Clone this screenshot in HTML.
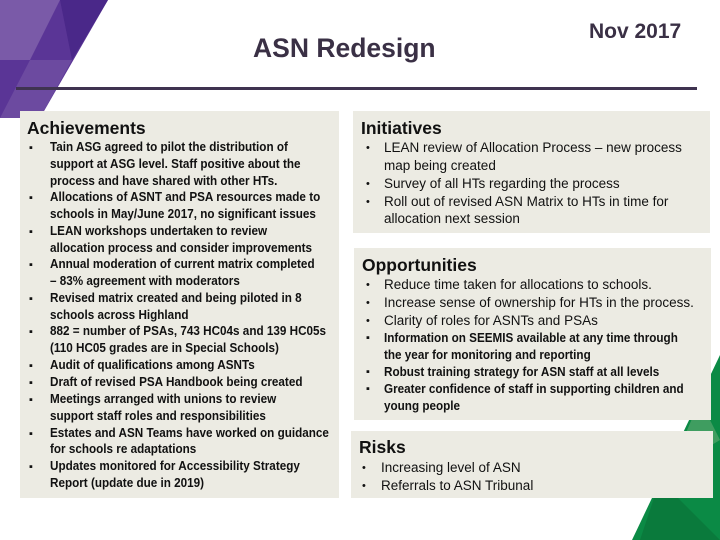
<!DOCTYPE html>
<html><head><meta charset="utf-8">
<style>
body{margin:0;width:720px;height:540px;position:relative;overflow:hidden;background:#fff;font-family:"Liberation Sans",sans-serif;color:#111;}
.panel{position:absolute;background:#ecebe3;}
.h{position:absolute;font-family:"Liberation Sans",sans-serif;font-size:17.5px;font-weight:bold;color:#111;}
.l{position:absolute;white-space:nowrap;font-size:13px;line-height:14px;}
.b .l,.l.b{font-weight:bold;transform:scaleX(0.9);transform-origin:0 0;}
.bul{position:absolute;font-size:11px;line-height:14px;}
</style></head><body>
<svg width="720" height="540" style="position:absolute;left:0;top:0">
<polygon points="0,0 108,0 40,118 0,118" fill="#5a3596"/>
<polygon points="0,0 60,0 30,60 0,60" fill="#7a5aa8"/>
<polygon points="30,60 72,60 40,118 0,118" fill="#6c4aa0"/>
<polygon points="60,0 108,0 72,60" fill="#4a2889"/>
<polygon points="720,355 720,540 632,540" fill="#0b8a45"/>
<polygon points="700,400 720,440 670,470" fill="#3f9d60"/>
<polygon points="660,480 720,540 640,540" fill="#0a7a3c"/>
<rect x="16" y="87" width="681" height="3" fill="#3f3350"/>
</svg>
<div style="position:absolute;left:253px;top:33px;font-family:'Liberation Sans',sans-serif;font-size:26.5px;font-weight:bold;color:#3a3045">ASN Redesign</div>
<div style="position:absolute;left:589px;top:20px;font-family:'Liberation Sans',sans-serif;font-size:21px;font-weight:bold;color:#3a3045">Nov 2017</div>

<div class="panel" style="left:20px;top:111px;width:319px;height:387px"></div>
<div class="h" style="left:27px;top:118px">Achievements</div>
<div class="b">
<div class="bul" style="left:29px;top:141px">▪</div><div class="l" style="left:50px;top:140px">Tain ASG agreed to pilot the distribution of</div>
<div class="l" style="left:50px;top:157px">support at ASG level. Staff positive about the</div>
<div class="l" style="left:50px;top:174px">process and have shared with other HTs.</div>
<div class="bul" style="left:29px;top:191px">▪</div><div class="l" style="left:50px;top:190px">Allocations of ASNT and PSA resources made to</div>
<div class="l" style="left:50px;top:207px">schools in May/June 2017, no significant issues</div>
<div class="bul" style="left:29px;top:225px">▪</div><div class="l" style="left:50px;top:224px">LEAN workshops undertaken  to review</div>
<div class="l" style="left:50px;top:241px">allocation process and consider improvements</div>
<div class="bul" style="left:29px;top:258px">▪</div><div class="l" style="left:50px;top:257px">Annual moderation of current matrix completed</div>
<div class="l" style="left:50px;top:274px">– 83% agreement with moderators</div>
<div class="bul" style="left:29px;top:292px">▪</div><div class="l" style="left:50px;top:291px">Revised matrix created and being piloted in 8</div>
<div class="l" style="left:50px;top:308px">schools across Highland</div>
<div class="bul" style="left:29px;top:325px">▪</div><div class="l" style="left:50px;top:324px">882 = number of PSAs, 743 HC04s and 139 HC05s</div>
<div class="l" style="left:50px;top:341px">(110 HC05 grades are in Special Schools)</div>
<div class="bul" style="left:29px;top:359px">▪</div><div class="l" style="left:50px;top:358px">Audit of qualifications among ASNTs</div>
<div class="bul" style="left:29px;top:376px">▪</div><div class="l" style="left:50px;top:375px">Draft of revised PSA Handbook being created</div>
<div class="bul" style="left:29px;top:393px">▪</div><div class="l" style="left:50px;top:392px">Meetings arranged with unions to review</div>
<div class="l" style="left:50px;top:409px">support staff roles and responsibilities</div>
<div class="bul" style="left:29px;top:427px">▪</div><div class="l" style="left:50px;top:426px">Estates and ASN Teams have worked on guidance</div>
<div class="l" style="left:50px;top:442px">for schools re adaptations</div>
<div class="bul" style="left:29px;top:460px">▪</div><div class="l" style="left:50px;top:459px">Updates monitored for Accessibility Strategy</div>
<div class="l" style="left:50px;top:476px">Report (update due in 2019)</div>
</div>

<div class="panel" style="left:353px;top:111px;width:357px;height:122px"></div>
<div class="h" style="left:361px;top:118px">Initiatives</div>
<div>
<div class="bul" style="left:366px;top:141px">•</div><div class="l" style="left:384px;top:141px;font-size:13.5px">LEAN review of Allocation Process – new process</div>
<div class="l" style="left:384px;top:159px;font-size:13.5px">map being created</div>
<div class="bul" style="left:366px;top:177px">•</div><div class="l" style="left:384px;top:177px;font-size:13.5px">Survey of all HTs regarding the process</div>
<div class="bul" style="left:366px;top:195px">•</div><div class="l" style="left:384px;top:195px;font-size:13.5px">Roll out of revised ASN Matrix to HTs in time for</div>
<div class="l" style="left:384px;top:212px;font-size:13.5px">allocation next session</div>
</div>

<div class="panel" style="left:354px;top:248px;width:357px;height:172px"></div>
<div class="h" style="left:362px;top:255px">Opportunities</div>
<div>
<div class="bul" style="left:366px;top:278px">•</div><div class="l" style="left:384px;top:278px;font-size:13.5px">Reduce time taken for allocations to schools.</div>
<div class="bul" style="left:366px;top:296px">•</div><div class="l" style="left:384px;top:296px;font-size:13.5px">Increase  sense of ownership for HTs in the process.</div>
<div class="bul" style="left:366px;top:314px">•</div><div class="l" style="left:384px;top:314px;font-size:13.5px">Clarity of roles for ASNTs and PSAs</div>
<div class="bul" style="left:366px;top:331px">▪</div><div class="l b" style="left:384px;top:331px">Information on SEEMIS available at any time through</div>
<div class="l b" style="left:384px;top:348px">the year for monitoring and reporting</div>
<div class="bul" style="left:366px;top:365px">▪</div><div class="l b" style="left:384px;top:365px">Robust training strategy for ASN staff at all levels</div>
<div class="bul" style="left:366px;top:382px">▪</div><div class="l b" style="left:384px;top:382px">Greater confidence of staff in supporting children and</div>
<div class="l b" style="left:384px;top:399px">young people</div>
</div>

<div class="panel" style="left:351px;top:431px;width:362px;height:67px"></div>
<div class="h" style="left:359px;top:437px">Risks</div>
<div>
<div class="bul" style="left:362px;top:461px">•</div><div class="l" style="left:381px;top:461px;font-size:13.5px">Increasing level of ASN</div>
<div class="bul" style="left:362px;top:479px">•</div><div class="l" style="left:381px;top:479px;font-size:13.5px">Referrals to ASN Tribunal</div>
</div>
</body></html>
